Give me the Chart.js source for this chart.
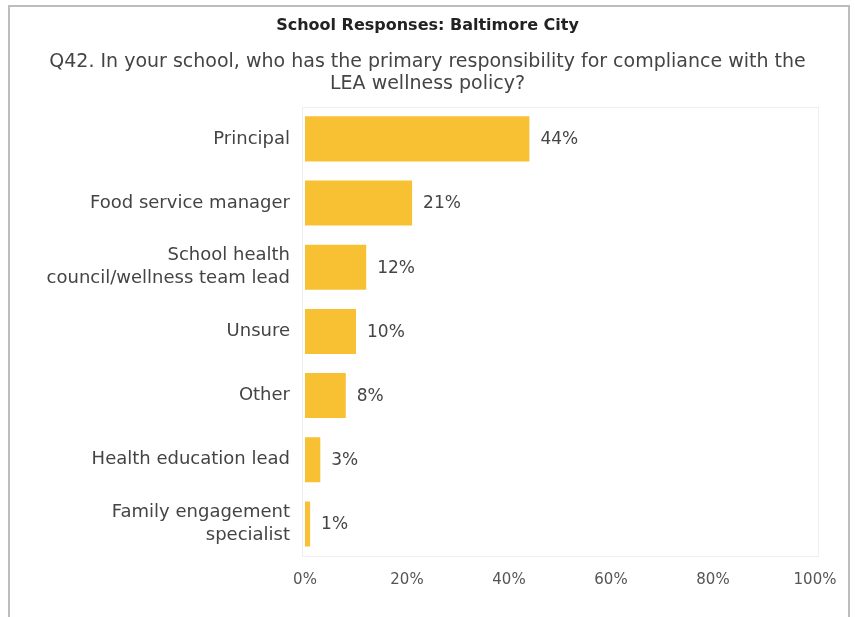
<!DOCTYPE html>
<html>
<head>
<meta charset="utf-8">
<script src="https://cdn.jsdelivr.net/npm/chart.js@4"></script>
<style>
  html, body { margin: 0; padding: 0; background: #fff; }
  #wrap { position: relative; width: 855px; height: 617px; overflow: hidden; }
  #frame {
    position: absolute; left: 8px; top: 5px; width: 838px; height: 640px;
    border: 2px solid #bdbdbd; pointer-events: none;
  }
  canvas { position: absolute; left: 0; top: 0; }
</style>
</head>
<body>
<div id="wrap">
  <canvas id="myChart" width="855" height="617"></canvas>
  <div id="frame"></div>
</div>
<script>
const roles = [
  "Principal",
  "Food service manager",
  ["School health", "council/wellness team lead"],
  "Unsure",
  "Other",
  "Health education lead",
  ["Family engagement", "specialist"]
];
const shares = [44, 21, 12, 10, 8, 3, 1];
const xTicks = [0, 20, 40, 60, 80, 100];

const FONT = "'DejaVu Sans', sans-serif";

// writes the percentage to the right of each bar, plus a faint box round the plot
const barLabels = {
  id: "barLabels",
  beforeDatasetsDraw(chart) {
    const { ctx, chartArea: a } = chart;
    ctx.save();
    ctx.strokeStyle = "#eeeeee";
    ctx.lineWidth = 1;
    ctx.strokeRect(a.left - 2.5, a.top + 0.5, a.right - a.left + 6, a.bottom - a.top);
    ctx.restore();
  },
  afterDatasetsDraw(chart) {
    const { ctx } = chart;
    const meta = chart.getDatasetMeta(0);
    ctx.save();
    ctx.font = "17px " + FONT;
    ctx.fillStyle = "#454545";
    ctx.textAlign = "left";
    ctx.textBaseline = "middle";
    meta.data.forEach((bar, i) => {
      ctx.fillText(shares[i] + "%", bar.x + 11, bar.y + 1);
    });
    ctx.restore();
  }
};

new Chart("myChart", {
  type: "bar",
  data: {
    labels: roles,
    datasets: [{
      data: shares,
      backgroundColor: "#F8C133",
      borderWidth: 0,
      barPercentage: 0.78,
      categoryPercentage: 0.9
    }]
  },
  plugins: [barLabels],
  options: {
    indexAxis: "y",
    responsive: false,
    animation: false,
    // equal side padding keeps the titles centred on the page
    layout: { padding: { left: 40, right: 40, top: 0, bottom: 13 } },
    plugins: {
      legend: { display: false },
      tooltip: { enabled: false },
      title: {
        display: true,
        text: "School Responses: Baltimore City",
        color: "#222",
        font: { family: FONT, size: 16, weight: "bold", lineHeight: 1.2 },
        padding: { top: 16, bottom: 15 }
      },
      subtitle: {
        display: true,
        text: ["Q42. In your school, who has the primary responsibility for compliance with the", "LEA wellness policy?"],
        color: "#444",
        font: { family: FONT, size: 19, lineHeight: 1.2 },
        padding: { bottom: 11 }
      }
    },
    scales: {
      x: {
        min: 0,
        max: 100,
        afterBuildTicks(scale) {
          scale.ticks = xTicks.map(v => ({ value: v }));
        },
        grid: { display: false, drawTicks: false },
        border: { display: false },
        ticks: {
          color: "#555",
          padding: 15,
          font: { family: FONT, size: 15 },
          callback: v => v + "%"
        }
      },
      y: {
        afterFit(scale) { scale.width = 265; },
        grid: { display: false, drawTicks: false },
        border: { display: false },
        ticks: {
          color: "#444",
          padding: 15,
          font: { family: FONT, size: 18, lineHeight: 1.28 }
        }
      }
    }
  }
});
</script>
</body>
</html>
